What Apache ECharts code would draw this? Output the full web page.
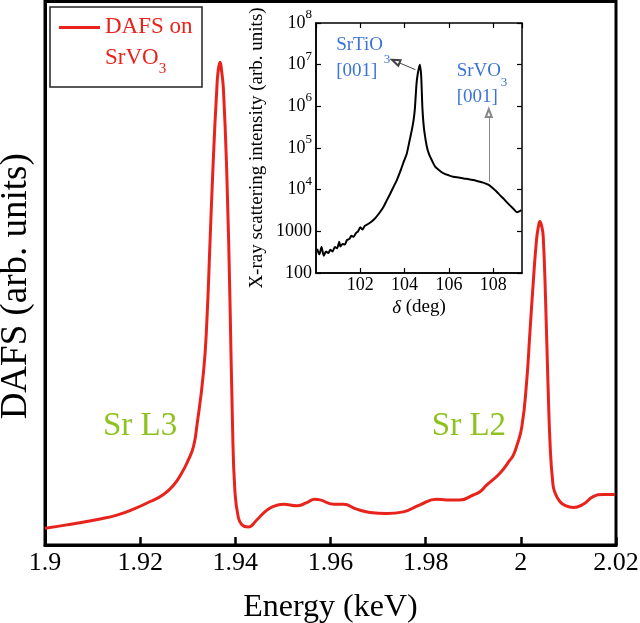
<!DOCTYPE html>
<html><head><meta charset="utf-8">
<script src="https://cdn.jsdelivr.net/npm/echarts@6/dist/echarts.min.js"></script>
<style>html,body{margin:0;padding:0;background:#fff}#c{width:640px;height:623px}</style>
</head><body><div id="c"></div>
<script>
// Main DAFS curve (keV, arb. units)
const energy = [1.9000, 1.9046, 1.9116, 1.9151, 1.9186, 1.9221, 1.9249, 1.9270, 1.9287, 1.9301, 1.9312, 1.9319, 1.9333, 1.9340, 1.9347, 1.9354, 1.9361, 1.9364, 1.9368, 1.9371, 1.9375, 1.9382, 1.9389, 1.9394, 1.9399, 1.9406, 1.9414, 1.9427, 1.9445, 1.9462, 1.9480, 1.9501, 1.9529, 1.9550, 1.9567, 1.9578, 1.9606, 1.9627, 1.9655, 1.9683, 1.9718, 1.9753, 1.9788, 1.9823, 1.9844, 1.9872, 1.9900, 1.9914, 1.9928, 1.9956, 1.9977, 1.9984, 1.9991, 2.0002, 2.0012, 2.0019, 2.0026, 2.0033, 2.0037, 2.0040, 2.0044, 2.0047, 2.0052, 2.0057, 2.0062, 2.0067, 2.0071, 2.0082, 2.0095, 2.0110, 2.0131, 2.0152, 2.0173, 2.0198];
const dafs = [3.1, 3.7, 4.8, 5.5, 6.6, 8.0, 9.3, 11.0, 13.2, 15.6, 18.1, 21.8, 31.7, 40.9, 56.2, 71.5, 83.8, 87.3, 88.8, 87.3, 83.8, 68.5, 43.8, 22.5, 10.1, 5.2, 3.7, 3.3, 4.6, 6.1, 7.1, 7.5, 7.2, 7.8, 8.4, 8.3, 7.5, 7.5, 6.6, 6.0, 5.8, 6.1, 7.4, 8.4, 8.3, 8.3, 9.2, 9.8, 11.0, 13.2, 15.6, 16.5, 18.1, 21.7, 29.8, 39.0, 48.2, 56.2, 58.6, 59.5, 58.6, 56.8, 45.1, 29.8, 17.5, 11.6, 9.8, 8.0, 7.2, 6.9, 7.5, 8.9, 9.3, 9.3];

// Inset: X-ray scattering vs delta (deg)
const delta = [100.05, 100.15, 100.25, 100.35, 100.45, 100.55, 100.65, 100.75, 100.85, 100.95, 101.05, 101.1, 101.2, 101.3, 101.4, 101.5, 101.6, 101.7, 101.8, 101.9, 102.0, 102.1, 102.2, 102.35, 102.5, 102.65, 102.8, 102.9, 103.05, 103.2, 103.35, 103.5, 103.65, 103.8, 103.95, 104.1, 104.2, 104.3, 104.4, 104.46, 104.54, 104.6, 104.65, 104.69, 104.75, 104.8, 104.85, 104.9, 105.0, 105.09, 105.25, 105.39, 105.6, 105.76, 106.0, 106.2, 106.45, 106.66, 106.9, 107.1, 107.3, 107.55, 107.8, 108.0, 108.15, 108.3, 108.45, 108.6, 108.75, 108.9, 109.07, 109.17, 109.27];
const intensity = [380, 280, 420, 260, 330, 300, 360, 330, 420, 390, 560, 430, 500, 480, 620, 650, 780, 740, 900, 1000, 1250, 1100, 1350, 1500, 1700, 2000, 2500, 2950, 3900, 5600, 8000, 11700, 17000, 27000, 45000, 74000, 130000, 230000, 450000, 830000, 3600000, 6300000, 8500000, 10000000, 5200000, 1000000, 400000, 230000, 110000, 74000, 48000, 35000, 28000, 24500, 22000, 20400, 19500, 18600, 17800, 17000, 16000, 14800, 13000, 10700, 9000, 7400, 6200, 5100, 4200, 3550, 2880, 3000, 3240];

const red = '#e8231b';
const green = '#8dc21f';
const blue = '#3b74d9';
const serif = "'Liberation Serif', 'Times New Roman', serif";

const chart = echarts.init(document.getElementById('c'), null, {renderer: 'canvas'});

chart.setOption({
  animation: false,
  backgroundColor: '#fff',
  textStyle: {fontFamily: serif},
  graphic: [{
    type: 'rect', z: 1,
    shape: {x: 50, y: 7, width: 152, height: 80},
    style: {fill: '#fff', stroke: '#222', lineWidth: 1.5}
  }],
  legend: {
    left: 59, top: -8.5, padding: 0,
    itemWidth: 41, itemHeight: 3,
    icon: 'rect',
    selectedMode: false,
    data: ['DAFS on SrVO3'],
    formatter: () => '{pad| }\n{a|DAFS on}\n{a|SrVO}{s|3}',
    textStyle: {
      fontFamily: serif, color: red, fontSize: 23,
      rich: {
        pad: {fontSize: 10, lineHeight: 37},
        a: {fontFamily: serif, fontSize: 23, lineHeight: 31, color: red, verticalAlign: 'top'},
        s: {fontFamily: serif, fontSize: 15, lineHeight: 15, color: red, verticalAlign: 'bottom', padding: [26, 0, 0, 0]}
      }
    }
  },
  grid: [
    {left: 45, top: 1.5, right: 24, bottom: 78, show: true, borderColor: '#000', borderWidth: 3, containLabel: false, outerBoundsMode: 'none'},
    {left: 316, top: 23, width: 206, height: 250, show: true, borderColor: '#000', borderWidth: 1.5, backgroundColor: '#fff', containLabel: false, outerBoundsMode: 'none'}
  ],
  xAxis: [
    {
      gridIndex: 0, type: 'value', min: 1.9, max: 2.02, interval: 0.02,
      name: 'Energy (keV)', nameLocation: 'middle', nameGap: 47,
      nameTextStyle: {fontFamily: serif, fontSize: 32, color: '#000'},
      axisLine: {show: true, lineStyle: {color: '#000', width: 3}},
      axisTick: {show: true, inside: true, length: 8, lineStyle: {color: '#000', width: 2.5}},
      axisLabel: {fontFamily: serif, fontSize: 26, color: '#000', margin: 5},
      splitLine: {show: false}
    },
    {
      gridIndex: 1, type: 'value', min: 100, max: 109.3, interval: 2,
      name: '{i|δ} (deg)', nameLocation: 'middle', nameGap: 25,
      nameTextStyle: {fontFamily: serif, fontSize: 19, color: '#000',
        rich: {i: {fontFamily: serif, fontSize: 19, fontStyle: 'italic', color: '#000'}}},
      axisLine: {show: true, lineStyle: {color: '#000', width: 1.5}},
      axisTick: {show: true, inside: true, length: 5, lineStyle: {color: '#000', width: 1.2}},
      axisLabel: {fontFamily: serif, fontSize: 18, color: '#000', margin: 3, showMinLabel: false, showMaxLabel: false},
      splitLine: {show: false}
    },
    {
      gridIndex: 1, type: 'value', position: 'top', min: 100, max: 109.3, interval: 2,
      axisLine: {show: false},
      axisTick: {show: true, inside: true, length: 5, lineStyle: {color: '#000', width: 1.2}},
      axisLabel: {show: false},
      splitLine: {show: false}
    }
  ],
  yAxis: [
    {
      gridIndex: 0, type: 'value', min: 0, max: 100,
      name: 'DAFS (arb. units)', nameLocation: 'middle', nameGap: 10,
      nameTextStyle: {fontFamily: serif, fontSize: 37, color: '#000', padding: [0, 26, 0, 0]},
      axisLine: {show: true, lineStyle: {color: '#000', width: 3}},
      axisTick: {show: false}, axisLabel: {show: false}, splitLine: {show: false}
    },
    {
      gridIndex: 1, type: 'log', logBase: 10, min: 100, max: 1e8,
      name: 'X-ray scattering intensity (arb. units)', nameLocation: 'middle', nameGap: 49,
      nameTextStyle: {fontFamily: serif, fontSize: 19, color: '#000'},
      axisLine: {show: true, lineStyle: {color: '#000', width: 1.5}},
      axisTick: {show: true, inside: true, length: 5, lineStyle: {color: '#000', width: 1.2}},
      axisLabel: {
        fontFamily: serif, fontSize: 18, color: '#000', margin: 4,
        formatter: function (v) {
          const e = Math.round(Math.log10(v));
          return e < 4 ? String(Math.round(v)) : '{b|10}{p|' + e + '}';
        },
        rich: {
          b: {fontFamily: serif, fontSize: 18, lineHeight: 30, verticalAlign: 'middle', color: '#000'},
          p: {fontFamily: serif, fontSize: 13, lineHeight: 13, verticalAlign: 'top', color: '#000'}
        }
      },
      splitLine: {show: false}
    },
    {
      gridIndex: 1, type: 'log', logBase: 10, min: 100, max: 1e8, position: 'right',
      axisLine: {show: false},
      axisTick: {show: true, inside: true, length: 5, lineStyle: {color: '#000', width: 1.2}},
      axisLabel: {show: false}, splitLine: {show: false}
    }
  ],
  series: [
    {
      name: 'DAFS on SrVO3', type: 'line', xAxisIndex: 0, yAxisIndex: 0,
      data: energy.map((e, i) => [e, dafs[i]]),
      symbol: 'none', smooth: 0.5,
      lineStyle: {color: red, width: 3}, itemStyle: {color: red},
      z: 3,
      markPoint: {
        symbol: 'circle', symbolSize: 0, silent: true,
        label: {show: true, position: 'inside', align: 'left', verticalAlign: 'middle',
          fontFamily: serif, fontSize: 33, color: green},
        data: [
          {name: 'Sr L3', coord: [1.91218, 21.9], label: {formatter: 'Sr L3'}},
          {name: 'Sr L2', coord: [1.98130, 21.9], label: {formatter: 'Sr L2'}}
        ]
      }
    },
    {
      name: 'inset', type: 'line', xAxisIndex: 1, yAxisIndex: 1,
      data: delta.map((d, i) => [d, intensity[i]]),
      symbol: 'none', smooth: 0.2,
      lineStyle: {color: '#000', width: 2}, itemStyle: {color: '#000'},
      z: 5,
      markLine: {
        silent: true, symbol: ['none', 'emptyTriangle'], symbolSize: [6, 8],
        label: {show: false},
        lineStyle: {color: '#444', width: 1, type: 'solid'},
        data: [
          [{coord: [104.49, 7.6e6]}, {coord: [103.6, 1.2e7]}],
          [{coord: [107.8, 1.55e4], lineStyle: {color: '#888', width: 1, type: 'solid'}}, {coord: [107.8, 6.9e5]}]
        ]
      },
      markPoint: {
        symbol: 'circle', symbolSize: 0, silent: true,
        label: {show: true, position: 'inside', align: 'left', verticalAlign: 'middle',
          fontFamily: serif, fontSize: 19, lineHeight: 26, color: blue},
        data: [
          {name: 'SrTiO3', coord: [100.91, 1.47e7], label: {formatter: 'SrTiO\n[001]'}},
          {name: 'sub1', coord: [103.06, 1.31e7], label: {formatter: '3', fontSize: 13}},
          {name: 'SrVO3', coord: [106.35, 3.38e6], label: {formatter: 'SrVO\n[001]'}},
          {name: 'sub2', coord: [108.34, 3.67e6], label: {formatter: '3', fontSize: 13}}
        ]
      }
    }
  ]
});
</script>
</body></html>
